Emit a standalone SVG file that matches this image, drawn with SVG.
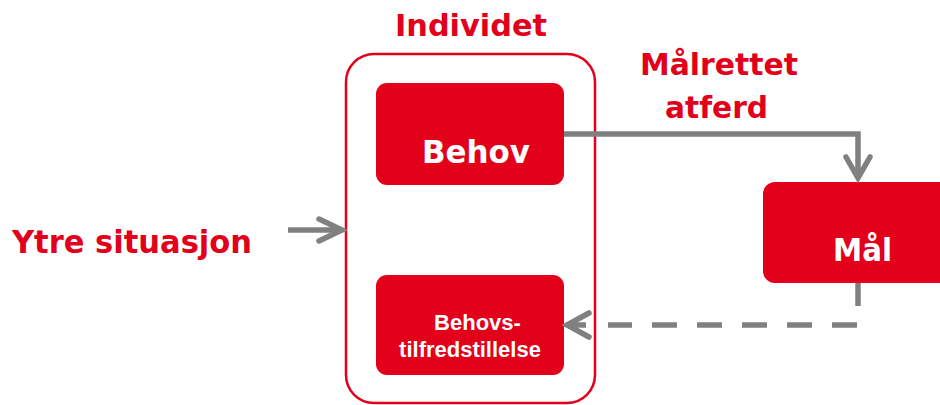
<svg xmlns="http://www.w3.org/2000/svg" width="940" height="405" viewBox="0 0 940 405">
  <style>
    .lbl { font-family: "DejaVu Sans", "Liberation Sans", Arial, sans-serif; font-weight: bold; fill: #e2001a; }
    .box { fill: #e2001a; }
    .in { font-family: "DejaVu Sans", "Liberation Sans", Arial, sans-serif; font-weight: bold; fill: #ffffff; }
    .small { font-family: "Liberation Sans", Arial, sans-serif; font-weight: bold; fill: #ffffff; }
    .wire { fill: none; stroke: #808080; stroke-width: 5.5; }
    .head { fill: none; stroke: #808080; stroke-width: 5.5; stroke-linecap: round; stroke-linejoin: miter; }
  </style>
  <rect width="940" height="405" fill="#ffffff"/>

  <!-- outside label -->
  <g id="ytre">
    <text class="lbl" x="12" y="253" font-size="32" textLength="240" lengthAdjust="spacingAndGlyphs">Ytre situasjon</text>
  </g>

  <!-- individual: container with two inner boxes -->
  <g id="individet">
    <rect x="346" y="54" width="249" height="349" rx="28" fill="none" stroke="#e2001a" stroke-width="2.5"/>
    <text class="lbl" x="395" y="36" font-size="31" textLength="152" lengthAdjust="spacingAndGlyphs">Individet</text>
  </g>
  <g id="behov">
    <rect class="box" x="376" y="83" width="188" height="102" rx="11"/>
    <text class="in" x="422" y="163" font-size="32" textLength="108" lengthAdjust="spacingAndGlyphs">Behov</text>
  </g>
  <g id="behovstilfredstillelse">
    <rect class="box" x="376" y="275" width="188" height="100" rx="11"/>
    <text class="small" x="477.5" y="330" font-size="22" text-anchor="middle">Behovs-</text>
    <text class="small" x="470" y="357" font-size="22" text-anchor="middle">tilfredstillelse</text>
  </g>

  <!-- goal -->
  <g id="maal">
    <rect class="box" x="763" y="182" width="200" height="101" rx="12"/>
    <text class="in" x="833" y="261" font-size="32" textLength="59" lengthAdjust="spacingAndGlyphs">Mål</text>
  </g>
  <g id="maalrettet-label">
    <text class="lbl" x="640" y="75" font-size="31" textLength="158" lengthAdjust="spacingAndGlyphs">Målrettet</text>
    <text class="lbl" x="665" y="118" font-size="31" textLength="103" lengthAdjust="spacingAndGlyphs">atferd</text>
  </g>

  <!-- connectors -->
  <g id="connectors">
    <!-- outside situation into the individual -->
    <line class="wire" x1="288" y1="230" x2="342" y2="230"/>
    <polyline class="head" points="319,219 342,230 319,241"/>
    <!-- need to goal -->
    <polyline class="wire" points="564,134 858,134 858,178"/>
    <polyline class="head" points="846,157 858,178 870,157"/>
    <!-- goal back to satisfaction (dashed) -->
    <line class="wire" x1="858" y1="283" x2="858" y2="306"/>
    <line class="wire" x1="857" y1="325" x2="608" y2="325" stroke-dasharray="25 20"/>
    <line class="wire" x1="566" y1="325" x2="586" y2="325"/>
    <polyline class="head" points="589,313 567,325 589,337"/>
  </g>
</svg>
